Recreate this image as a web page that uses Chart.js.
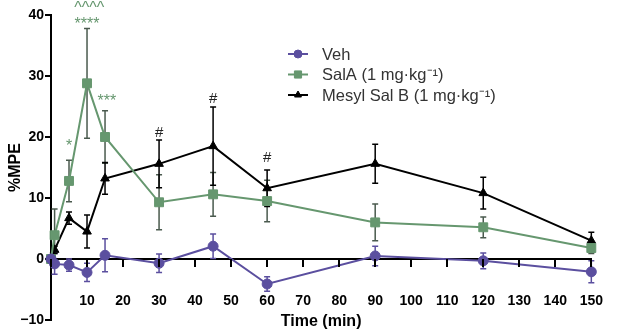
<!DOCTYPE html>
<html>
<head>
<meta charset="utf-8">
<script src="https://cdn.jsdelivr.net/npm/chart.js@4.4.0/dist/chart.umd.min.js"></script>
<style>
html,body{margin:0;padding:0;background:#fff}
#wrap{width:630px;height:332px;position:relative}
</style>
</head>
<body>
<div id="wrap"><canvas id="c"></canvas></div>
<script>
// ===================== DATA =====================
const times=[0,1,5,10,15,30,45,60,90,120,150];
const vehMean=[0,-0.8,-1.0,-2.2,0.6,-0.7,2.1,-4.1,0.5,-0.3,-2.1];
const vehErr=[0,1.7,1.0,1.5,2.7,1.5,2.0,1.2,1.6,1.3,1.8];
const salaMean=[0,3.9,12.8,28.8,20.0,9.3,10.6,9.5,6.0,5.2,1.8];
const salaErr=[0,4.3,3.4,9.0,4.3,4.5,3.6,3.4,3.0,1.7,0.9];
const mesylMean=[0,1.5,6.7,4.5,13.2,15.6,18.5,11.6,15.6,10.8,3.0];
const mesylErr=[0,0.6,1.0,2.7,2.6,3.9,6.4,3.0,3.2,2.6,1.4];
const seriesNames=['Veh','SalA (1 mg\u00b7kg\u207b\u00b9)','Mesyl Sal B (1 mg\u00b7kg\u207b\u00b9)'];
const xTicks=[0,10,20,30,40,50,60,70,80,90,100,110,120,130,140,150];
const yTicks=[-10,0,10,20,30,40];
// significance marks: time, y (in %MPE units), text, series index
const marks=[
  {x:5,y:19.2,t:'*',s:1},
  {x:10,y:39.2,t:'****',s:1},
  {x:10.6,y:41.8,t:'^^^^',s:1},
  {x:15.5,y:26.6,t:'***',s:1},
  {x:30,y:20.8,t:'#',s:2},
  {x:45,y:26.4,t:'#',s:2},
  {x:60,y:16.7,t:'#',s:2},
];

// ===================== STYLE =====================
const PURPLE='#5b4f9f', GREEN='#66976f', BLACK='#000';
const FONT="'Liberation Sans', Arial, Helvetica, sans-serif";
const pts=(m)=>times.map((t,i)=>({x:t,y:m[i]}));

const errorBars={id:'errorBars',beforeDatasetsDraw(chart){
  const {ctx,scales:{x,y}}=chart;
  chart.data.datasets.forEach(ds=>{
    ctx.save();ctx.strokeStyle=ds.errColor;ctx.lineWidth=1.5;
    ds.data.forEach((p,i)=>{
      const e=ds.err[i];if(!e)return;
      const px=x.getPixelForValue(p.x),top=y.getPixelForValue(p.y+e),bot=y.getPixelForValue(p.y-e);
      ctx.beginPath();
      ctx.moveTo(px,top);ctx.lineTo(px,bot);
      ctx.moveTo(px-3,top);ctx.lineTo(px+3,top);
      ctx.moveTo(px-3,bot);ctx.lineTo(px+3,bot);
      ctx.stroke();
    });
    ctx.restore();
  });
}};

// tick marks under the zero-line x axis
const xTickMarks={id:'xTickMarks',afterDraw(chart){
  const {ctx,scales:{x,y}}=chart;
  const y0=y.getPixelForValue(0);
  ctx.save();ctx.strokeStyle='#000';ctx.lineWidth=2;
  x.ticks.forEach(t=>{
    const px=Math.round(x.getPixelForValue(t.value));
    ctx.beginPath();ctx.moveTo(px,y0);ctx.lineTo(px,y0+8);ctx.stroke();
  });
  ctx.restore();
}};

const sigMarks={id:'sigMarks',afterDraw(chart){
  const {ctx,scales:{x,y}}=chart;
  ctx.save();ctx.textAlign='center';ctx.textBaseline='alphabetic';
  marks.forEach(m=>{
    ctx.font=(m.t==='#'?'15px ':'16px ')+FONT;
    ctx.fillStyle=m.s===1?GREEN:'#222';
    const mt=ctx.measureText(m.t);
    const cy=y.getPixelForValue(m.y);
    ctx.fillText(m.t,x.getPixelForValue(m.x),cy+(mt.actualBoundingBoxAscent-mt.actualBoundingBoxDescent)/2);
  });
  ctx.restore();
}};

const legendBox={id:'legendBox',afterDraw(chart){
  const {ctx}=chart;
  ctx.save();
  chart.data.datasets.forEach((ds,i)=>{
    const ly=54+i*20.5;
    ctx.strokeStyle=ds.borderColor;ctx.lineWidth=2;
    ctx.beginPath();ctx.moveTo(288,ly);ctx.lineTo(308,ly);ctx.stroke();
    ctx.fillStyle=ds.backgroundColor;ctx.strokeStyle=ds.borderColor;ctx.lineWidth=1;
    Chart.helpers.drawPoint(ctx,{pointStyle:ds.pointStyle,radius:ds.pointRadius*0.8,borderWidth:1,rotation:0},298,ly);
    ctx.fillStyle='#333';ctx.font='16.5px '+FONT;ctx.textBaseline='middle';ctx.textAlign='left';
    ctx.fillText(seriesNames[i],322,ly+1);
  });
  ctx.restore();
}};

const ds=(i,mean,err,color,style,r)=>({label:seriesNames[i],data:pts(mean),err,errColor:color==GREEN?'#4a5a4e':color,
  borderColor:color,backgroundColor:color,borderWidth:2,pointStyle:style,pointRadius:r,pointBorderWidth:1,
  pointBackgroundColor:color,pointBorderColor:color,tension:0,clip:false,order:i});

new Chart(document.getElementById('c'),{type:'line',
  data:{datasets:[
    ds(0,vehMean,vehErr,PURPLE,'circle',5),
    ds(1,salaMean,salaErr,GREEN,'rect',6.3),
    ds(2,mesylMean,mesylErr,BLACK,'triangle',5),
  ]},
  options:{responsive:true,maintainAspectRatio:false,animation:false,
    layout:{padding:{left:0,right:12,top:15,bottom:12}},
    plugins:{legend:{display:false},tooltip:{enabled:false}},
    scales:{
      x:{type:'linear',position:{y:0},min:0,max:150,
        afterBuildTicks:s=>{s.ticks=xTicks.map(v=>({value:v}));},
        afterFit:s=>{s.height=72;},
        ticks:{autoSkip:false,maxRotation:0,padding:27,color:'#000',font:{family:FONT,size:14,weight:'bold'},callback:v=>v===0?'':v},
        grid:{drawOnChartArea:false,tickLength:7,color:'#000',lineWidth:2},
        border:{color:'#000',width:2},
        title:{display:true,text:'Time (min)',color:'#000',font:{family:FONT,size:16,weight:'bold'},padding:0}},
      y:{min:-10,max:40,
        afterBuildTicks:s=>{s.ticks=yTicks.map(v=>({value:v}));},
        afterFit:s=>{s.width=51;},
        ticks:{padding:1,color:'#000',font:{family:FONT,size:14,weight:'bold'},callback:v=>v<0?'\u2212'+Math.abs(v):v},
        grid:{drawOnChartArea:false,tickLength:6,color:'#000',lineWidth:2},
        border:{color:'#000',width:2},
        title:{display:true,text:'%MPE',color:'#000',font:{family:FONT,size:16,weight:'bold'},padding:{top:6,bottom:0}}}
    }
  },
  plugins:[errorBars,xTickMarks,sigMarks,legendBox]
});
</script>
</body>
</html>
